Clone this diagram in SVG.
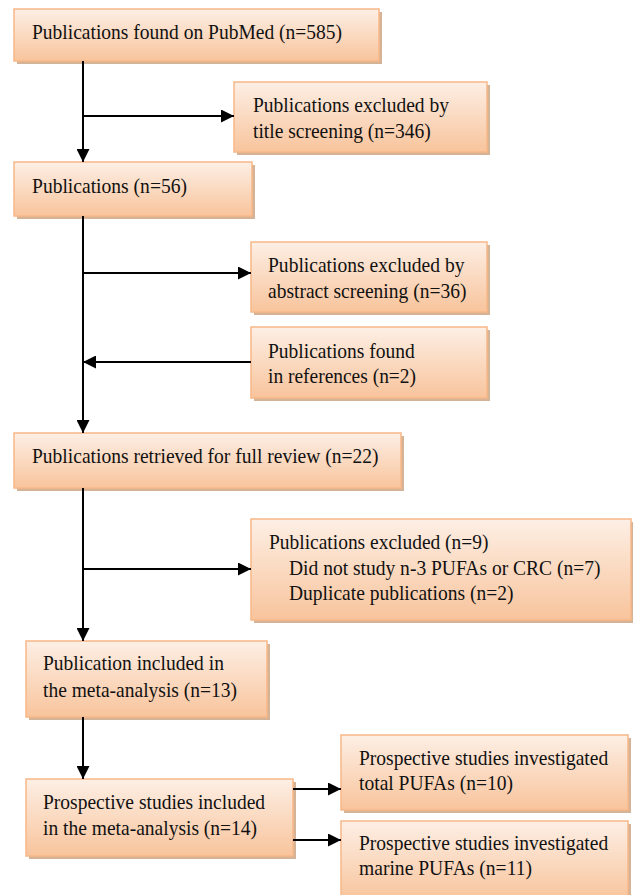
<svg xmlns="http://www.w3.org/2000/svg" width="633" height="895" viewBox="0 0 633 895">
<style>
.box{fill:url(#g);stroke:#F8B888;stroke-width:1.5}
.sh{fill:#D4B396}
text{font-family:"Liberation Serif","Times New Roman",serif;font-size:21px;fill:#111}
.c{stroke:#000;stroke-width:2;fill:none;marker-end:url(#a)}
</style>
<defs>
<linearGradient id="g" x1="0" y1="0" x2="0" y2="1">
<stop offset="0" stop-color="#FDEFE5"/>
<stop offset="1" stop-color="#F8C49C"/>
</linearGradient>
<marker id="a" viewBox="0 0 10 10" refX="10" refY="5" markerWidth="6.5" markerHeight="6.5" markerUnits="strokeWidth" orient="auto">
<path d="M0,0 L10,5 L0,10 z" fill="#000"/>
</marker>
</defs>
<g id="n1"><rect class="sh" x="17" y="12" width="365" height="52"/><rect class="box" x="14" y="9" width="365" height="52"/><text x="32" y="39" textLength="310" lengthAdjust="spacingAndGlyphs">Publications found on PubMed (n=585)</text></g>
<g id="n2"><rect class="sh" x="237" y="85" width="253" height="70"/><rect class="box" x="234" y="82" width="253" height="70"/><text x="253" y="112" textLength="196" lengthAdjust="spacingAndGlyphs">Publications excluded by</text><text x="253" y="138" textLength="177.8" lengthAdjust="spacingAndGlyphs">title screening (n=346)</text></g>
<g id="n3"><rect class="sh" x="17" y="165" width="238" height="54"/><rect class="box" x="14" y="162" width="238" height="54"/><text x="32" y="193" textLength="155" lengthAdjust="spacingAndGlyphs">Publications (n=56)</text></g>
<g id="n4"><rect class="sh" x="254" y="245" width="236" height="70"/><rect class="box" x="251" y="242" width="236" height="70"/><text x="268" y="272" textLength="196.5" lengthAdjust="spacingAndGlyphs">Publications excluded by</text><text x="268" y="298" textLength="198.4" lengthAdjust="spacingAndGlyphs">abstract screening (n=36)</text></g>
<g id="n5"><rect class="sh" x="254" y="330" width="236" height="71"/><rect class="box" x="251" y="327" width="236" height="71"/><text x="268" y="358" textLength="146.8" lengthAdjust="spacingAndGlyphs">Publications found</text><text x="268" y="383" textLength="148" lengthAdjust="spacingAndGlyphs">in references (n=2)</text></g>
<g id="n6"><rect class="sh" x="17" y="436" width="387" height="55"/><rect class="box" x="14" y="433" width="387" height="55"/><text x="32" y="463" textLength="346.5" lengthAdjust="spacingAndGlyphs">Publications retrieved for full review (n=22)</text></g>
<g id="n7"><rect class="sh" x="254" y="522" width="380" height="101"/><rect class="box" x="251" y="519" width="380" height="101"/><text x="269" y="549" textLength="219.5" lengthAdjust="spacingAndGlyphs">Publications excluded (n=9)</text><text x="289" y="575" textLength="311.5" lengthAdjust="spacingAndGlyphs">Did not study n-3 PUFAs or CRC (n=7)</text><text x="289" y="600" textLength="224.4" lengthAdjust="spacingAndGlyphs">Duplicate publications (n=2)</text></g>
<g id="n8"><rect class="sh" x="29" y="644" width="241" height="76"/><rect class="box" x="26" y="641" width="241" height="76"/><text x="43" y="670" textLength="180.9" lengthAdjust="spacingAndGlyphs">Publication included in</text><text x="43" y="697" textLength="194" lengthAdjust="spacingAndGlyphs">the meta-analysis (n=13)</text></g>
<g id="n9"><rect class="sh" x="29" y="782" width="267" height="77"/><rect class="box" x="26" y="779" width="267" height="77"/><text x="43" y="809" textLength="222.1" lengthAdjust="spacingAndGlyphs">Prospective studies included</text><text x="43" y="835" textLength="214.1" lengthAdjust="spacingAndGlyphs">in the meta-analysis (n=14)</text></g>
<g id="n10"><rect class="sh" x="344" y="738" width="287" height="75"/><rect class="box" x="341" y="735" width="287" height="75"/><text x="359" y="765" textLength="249.2" lengthAdjust="spacingAndGlyphs">Prospective studies investigated</text><text x="359" y="790" textLength="154" lengthAdjust="spacingAndGlyphs">total PUFAs (n=10)</text></g>
<g id="n11"><rect class="sh" x="344" y="824" width="287" height="80"/><rect class="box" x="341" y="821" width="287" height="80"/><text x="359" y="850" textLength="249.2" lengthAdjust="spacingAndGlyphs">Prospective studies investigated</text><text x="359" y="875" textLength="173" lengthAdjust="spacingAndGlyphs">marine PUFAs (n=11)</text></g>
<g id="connectors">
<path class="c" d="M83,61 V162"/>
<path class="c" d="M83,116 H234"/>
<path class="c" d="M83,216 V433"/>
<path class="c" d="M83,273 H251"/>
<path class="c" d="M251,362 H83"/>
<path class="c" d="M83,488 V641"/>
<path class="c" d="M83,569 H251"/>
<path class="c" d="M83,717 V779"/>
<path class="c" d="M293,789 H341"/>
<path class="c" d="M293,840 H341"/>
</g>
</svg>
